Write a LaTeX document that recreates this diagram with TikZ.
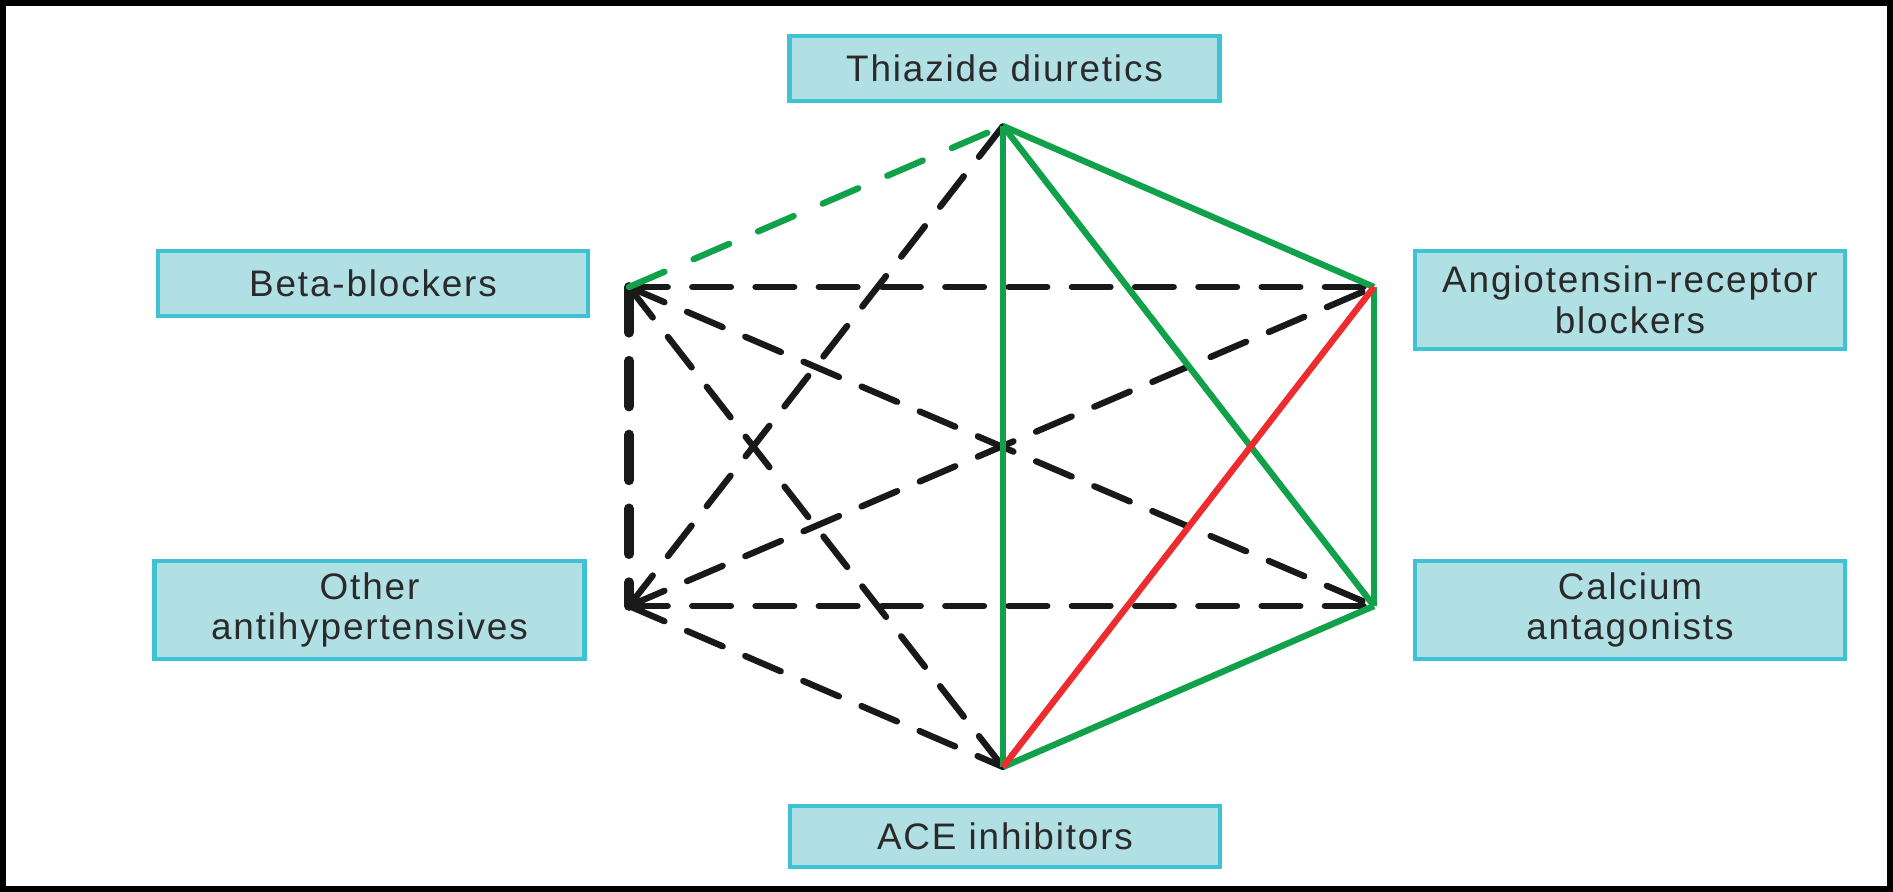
\documentclass[tikz,border=0pt]{standalone}
\usepackage{fontspec}
\setmainfont{Liberation Sans}[LetterSpace=5]
\usepackage{tikz}
\usetikzlibrary{positioning, calc}
\definecolor{boxfill}{HTML}{B0DFE4}
\definecolor{boxline}{HTML}{3FC2D3}
\definecolor{goodgreen}{HTML}{12A14B}
\definecolor{badred}{HTML}{EE2B2E}
\definecolor{textgray}{HTML}{2A2A2A}
\tikzset{
  drugbox/.style={
    draw=boxline,
    line width=1.2pt,
    rectangle,
    fill=boxfill,
    minimum width=4.3cm,
    align=center,
    text=textgray,
    font=\fontsize{10.5}{11.5}\selectfont
  },
  possible/.style={
    draw=black!90,
    line width=1.8pt,
    line cap=round,
    dash pattern=on 11pt off 7pt
  },
  useful/.style={
    draw=goodgreen,
    line width=1.8pt,
    line cap=round,
    dash pattern=on 11pt off 9pt
  },
  preferred/.style={
    draw=goodgreen,
    line width=1.8pt
  },
  avoid/.style={
    draw=badred,
    line width=1.8pt
  }
}

\begin{document}
\begin{tikzpicture}
        \useasboundingbox (0,0) rectangle (18.93,8.92);
        \draw[line width=1.7pt] (0.03,0.03) rectangle (18.90,8.89);

        % hexagon corners
        \coordinate (thz) at (10.03,7.66);
        \coordinate (arb) at (13.74,6.05);
        \coordinate (cca) at (13.74,2.86);
        \coordinate (ace) at (10.03,1.25);
        \coordinate (oth) at (6.29,2.86);
        \coordinate (bbl) at (6.29,6.05);

        \node[drugbox, minimum height=0.65cm] (thzbox) at (10.045,8.235) {Thiazide diuretics};
        \node[drugbox, minimum height=0.65cm] (bblbox) at (3.73,6.085) {Beta-blockers};
        \node[drugbox, minimum height=0.98cm] (arbbox) at (16.30,5.92) {Angiotensin-receptor\\blockers};
        \node[drugbox, minimum height=0.98cm] (othbox) at (3.695,2.82) {Other\\antihypertensives};
        \node[drugbox, minimum height=0.98cm] (ccabox) at (16.30,2.82) {Calcium\\antagonists};
        \node[drugbox, minimum height=0.61cm] (acebox) at (10.05,0.555) {ACE inhibitors};

        % possible combinations
        \draw[possible] (bbl) -- (arb);
        \draw[possible] (bbl) -- (cca);
        \draw[possible] (bbl) -- (ace);
        \draw[possible] (oth) -- (thz);
        \draw[possible] (oth) -- (arb);
        \draw[possible] (oth) -- (cca);
        \draw[possible] (oth) -- (ace);
        \draw[possible, line width=2.8pt, dash pattern=on 13pt off 8pt] (bbl) -- (oth);

        % useful, with limitations
        \draw[useful] (bbl) -- (thz);

        % preferred combinations
        \draw[preferred] (thz) -- (arb);
        \draw[preferred] (thz) -- (cca);
        \draw[preferred] (thz) -- (ace);
        \draw[preferred] (arb) -- (cca);
        \draw[preferred] (cca) -- (ace);

        % not recommended
        \draw[avoid] (arb) -- (ace);
      \end{tikzpicture}
\end{document}
